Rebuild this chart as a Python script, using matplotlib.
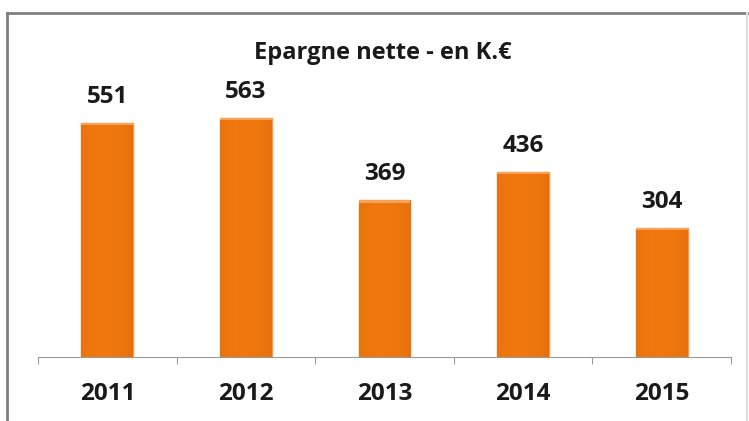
import matplotlib.pyplot as plt
import numpy as np
from matplotlib.patches import Rectangle
from matplotlib.lines import Line2D

# Data
years = ['2011', '2012', '2013', '2014', '2015']
epargne = [551, 563, 369, 436, 304]
title = 'Epargne nette - en K.€'

plt.rcParams['font.family'] = ['Open Sans', 'DejaVu Sans']

fig = plt.figure(figsize=(7.49, 4.21), dpi=100)
W, H = 749, 421

# axes placed in pixel terms: x 38..731, baseline at y=357
ax = fig.add_axes([38 / W, (H - 357) / H, (731 - 38) / W, 297 / H])
ax.set_xlim(-0.5, len(years) - 0.5)
ax.set_ylim(0, 700)

x = np.arange(len(years))
bars = ax.bar(x, epargne, width=0.375, color='#EE7710', edgecolor='#F39A4A',
              linewidth=1.0, zorder=2)

# horizontal shading inside each bar
grad = np.linspace(0, 1, 64)
shade = 1 - 0.35 * (np.abs(grad - 0.45) * 2) ** 2
cols = np.zeros((1, 64, 3))
base = np.array([0xF0, 0x78, 0x0E]) / 255
for i in range(64):
    cols[0, i] = np.clip(base * shade[i] + (1 - shade[i]) * np.array([0.85, 0.4, 0.05]), 0, 1)
for b in bars:
    ax.imshow(cols, extent=[b.get_x(), b.get_x() + b.get_width(), 0, b.get_height()],
              aspect='auto', zorder=2.5)
    # light top cap
    ax.add_patch(Rectangle((b.get_x(), b.get_height() - 5), b.get_width(), 5,
                           color='#F6A35A', zorder=2.6, lw=0))

for xi, v in zip(x, epargne):
    ax.annotate(str(v), (xi, v), xytext=(0, 19), textcoords='offset points',
                ha='center', va='center', fontsize=17.5, fontweight='bold',
                color='#1a1a1a')

ax.set_xticks(np.arange(-0.5, len(years), 1.0))
ax.set_xticklabels([])
ax.set_xticks(x, minor=True)
ax.set_xticklabels(years, minor=True, fontsize=17.5, fontweight='bold', color='#1a1a1a')
ax.tick_params(axis='x', which='minor', length=0, pad=18)
ax.tick_params(axis='x', which='major', length=5, color='#999999', direction='out')
ax.set_yticks([])
for s in ['top', 'right', 'left']:
    ax.spines[s].set_visible(False)
ax.spines['bottom'].set_color('#999999')

fig.text(383 / W, 1 - 53 / H, title, ha='center', va='center', fontsize=17,
         fontweight='bold', color='#1a1a1a')

# outer frame: strong top and left, faint right
fig.add_artist(Line2D([7 / W, 7 / W], [0, 1 - 13 / H], color='#808080', lw=2))
fig.add_artist(Line2D([7 / W, 747 / W], [1 - 13 / H, 1 - 13 / H], color='#808080', lw=2))
fig.add_artist(Line2D([747 / W, 747 / W], [0, 1 - 13 / H], color='#dddddd', lw=1.5))

fig.savefig('out.png', dpi=100)
